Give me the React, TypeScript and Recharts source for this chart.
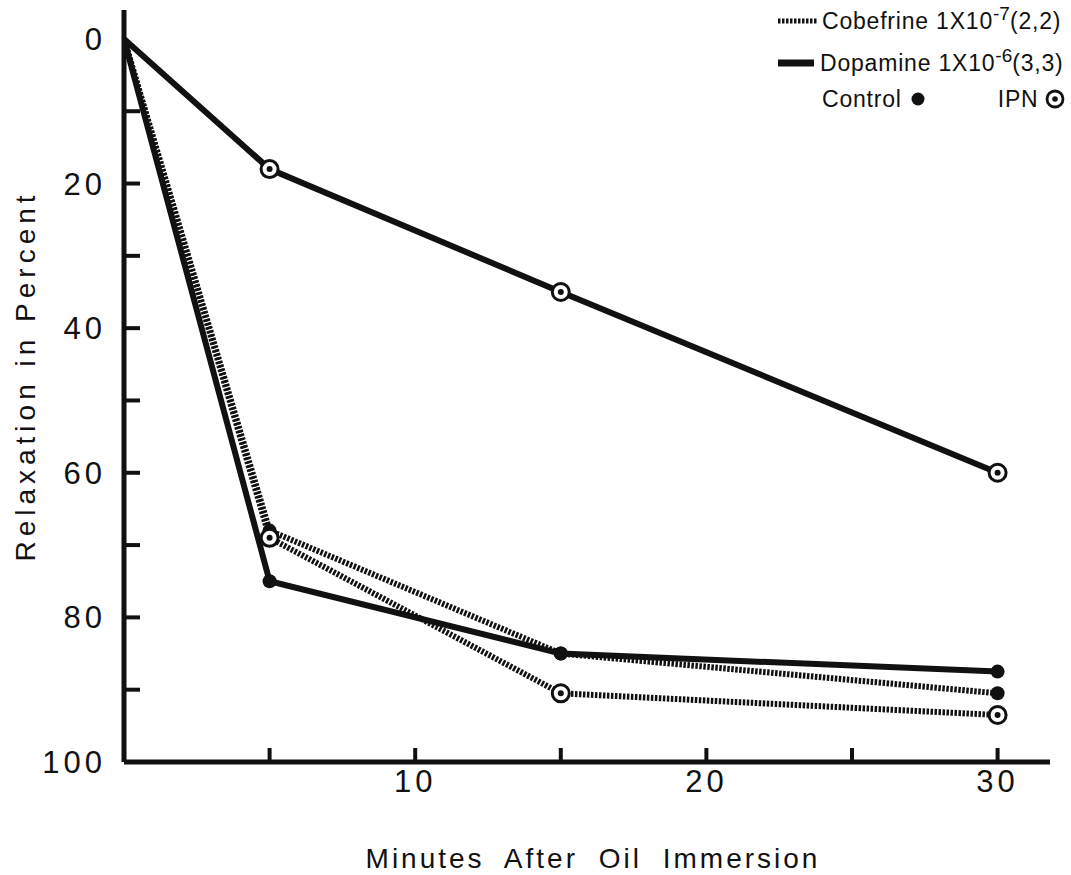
import React from 'react';
import { LineChart, Line, XAxis, YAxis, Legend } from 'recharts';

const minutes = [0, 5, 15, 30];
const dopamineIpn = [0, 18, 35, 60];
const dopamineControl = [0, 75, 85, 87.5];
const cobefrineControl = [0, 68, 85, 90.5];
const cobefrineIpn = [0, 69, 90.5, 93.5];

const xTicks = [5, 10, 15, 20, 25, 30];
const xTickLabels = [10, 20, 30];
const yTicks = [0, 10, 20, 30, 40, 50, 60, 70, 80, 90, 100];
const yTickLabels = [0, 20, 40, 60, 80, 100];

const data = minutes.map((m, i) => ({
  minute: m,
  dopIpn: dopamineIpn[i],
  dopControl: dopamineControl[i],
  cobControl: cobefrineControl[i],
  cobIpn: cobefrineIpn[i],
}));

const FONT = '"Liberation Sans", Arial, Helvetica, sans-serif';
const INK = '#111';

const XTick = (props: any) => {
  const { x, y, payload } = props;
  const v = payload.value;
  return (
    <g>
      <line x1={x} x2={x} y1={y} y2={y - 14} stroke={INK} strokeWidth={4} />
      {xTickLabels.includes(v) && (
        <text x={x} y={y + 30} textAnchor="middle" fontSize={31} letterSpacing={4} fill={INK} fontFamily={FONT}>
          {v}
        </text>
      )}
    </g>
  );
};

const YTick = (props: any) => {
  const { x, y, payload } = props;
  const v = payload.value;
  return (
    <g>
      {v > 0 && v < 100 && v % 10 === 0 && (
        <line x1={x} x2={x + 16} y1={y} y2={y} stroke={INK} strokeWidth={4} />
      )}
      {yTickLabels.includes(v) && (
        <text x={x - 18} y={y + 11} textAnchor="end" fontSize={31} letterSpacing={4} fill={INK} fontFamily={FONT}>
          {v}
        </text>
      )}
    </g>
  );
};

const filledDot = (props: any) => {
  const { cx, cy, index, dataKey } = props;
  if (index === 0) return <g key={`${dataKey}-${index}`} />;
  return <circle key={`${dataKey}-${index}`} cx={cx} cy={cy} r={7} fill={INK} />;
};

const openDot = (props: any) => {
  const { cx, cy, index, dataKey } = props;
  if (index === 0) return <g key={`${dataKey}-${index}`} />;
  return (
    <g key={`${dataKey}-${index}`}>
      <circle cx={cx} cy={cy} r={8.5} fill="#fff" stroke={INK} strokeWidth={3} />
      <circle cx={cx} cy={cy} r={3} fill={INK} />
    </g>
  );
};

const LegendBox = () => {
  const row: React.CSSProperties = { display: 'flex', alignItems: 'center', height: 42, whiteSpace: 'nowrap' };
  const sup: React.CSSProperties = { fontSize: 19, position: 'relative', top: -9, letterSpacing: 0 };
  const noShrink: React.CSSProperties = { flexShrink: 0 };
  return (
    <div style={{ fontFamily: FONT, fontSize: 23, letterSpacing: 0.8, color: INK, lineHeight: 1 }}>
      <div style={row}>
        <svg width={40} height={10} style={{ ...noShrink, marginRight: 4 }}>
          <line x1={0} x2={40} y1={5} y2={5} stroke={INK} strokeWidth={5} strokeDasharray="2.5 1.5" />
        </svg>
        <span>
          Cobefrine 1X10<span style={sup}>-7</span>(2,2)
        </span>
      </div>
      <div style={row}>
        <svg width={36} height={10} style={{ ...noShrink, marginRight: 6 }}>
          <line x1={0} x2={36} y1={5} y2={5} stroke={INK} strokeWidth={7} />
        </svg>
        <span>
          Dopamine 1X10<span style={sup}>-6</span>(3,3)
        </span>
      </div>
      <div style={{ ...row, height: 30, paddingLeft: 44 }}>
        <span>Control</span>
        <svg width={22} height={20} style={{ ...noShrink, marginLeft: 6 }}>
          <circle cx={10} cy={10} r={6.5} fill={INK} />
        </svg>
        <span style={{ marginLeft: 68 }}>IPN</span>
        <svg width={24} height={22} style={{ ...noShrink, marginLeft: 5 }}>
          <circle cx={11} cy={11} r={8} fill="#fff" stroke={INK} strokeWidth={2.8} />
          <circle cx={11} cy={11} r={2.8} fill={INK} />
        </svg>
      </div>
    </div>
  );
};

export default function App() {
  return (
    <div style={{ position: 'absolute', left: 0, top: 0, background: '#fff' }}>
      <LineChart width={1071} height={875} data={data} margin={{ top: 10, right: 21, left: 0, bottom: 0 }}>
        <XAxis
          dataKey="minute"
          type="number"
          domain={[0, 31.8]}
          ticks={xTicks}
          height={113}
          tickSize={0}
          tickMargin={0}
          tickLine={false}
          axisLine={{ stroke: INK, strokeWidth: 5 }}
          tick={<XTick />}
          interval={0}
          allowDataOverflow
          label={(p: any) => {
            const vb = p.viewBox;
            return (
              <text
                x={593}
                y={vb.y + 106}
                textAnchor="middle"
                fontSize={28}
                letterSpacing={3}
                wordSpacing={10}
                fill={INK}
                fontFamily={FONT}
              >
                Minutes After Oil Immersion
              </text>
            );
          }}
        />
        <YAxis
          type="number"
          domain={[-4, 100]}
          reversed
          ticks={yTicks}
          width={124}
          tickSize={0}
          tickMargin={0}
          tickLine={false}
          axisLine={{ stroke: INK, strokeWidth: 5 }}
          tick={<YTick />}
          interval={0}
          label={(p: any) => {
            const vb = p.viewBox;
            const cx = 35;
            const cy = vb.y + vb.height / 2 - 10;
            return (
              <text
                x={cx}
                y={cy}
                transform={`rotate(-90 ${cx} ${cy})`}
                textAnchor="middle"
                fontSize={28}
                letterSpacing={5}
                fill={INK}
                fontFamily={FONT}
              >
                Relaxation in Percent
              </text>
            );
          }}
        />
        <Legend
          layout="horizontal"
          verticalAlign="middle"
          align="center"
          content={<LegendBox />}
          wrapperStyle={{ top: 0, left: 778, width: 293, height: 120 }}
        />
        <Line
          dataKey="cobControl"
          stroke={INK}
          strokeWidth={6}
          strokeDasharray="2.5 1.5"
          dot={filledDot}
          activeDot={false}
          isAnimationActive={false}
        />
        <Line
          dataKey="cobIpn"
          stroke={INK}
          strokeWidth={6}
          strokeDasharray="2.5 1.5"
          dot={openDot}
          activeDot={false}
          isAnimationActive={false}
        />
        <Line
          dataKey="dopControl"
          stroke={INK}
          strokeWidth={6}
          dot={filledDot}
          activeDot={false}
          isAnimationActive={false}
        />
        <Line
          dataKey="dopIpn"
          stroke={INK}
          strokeWidth={6}
          dot={openDot}
          activeDot={false}
          isAnimationActive={false}
        />
      </LineChart>
    </div>
  );
}
